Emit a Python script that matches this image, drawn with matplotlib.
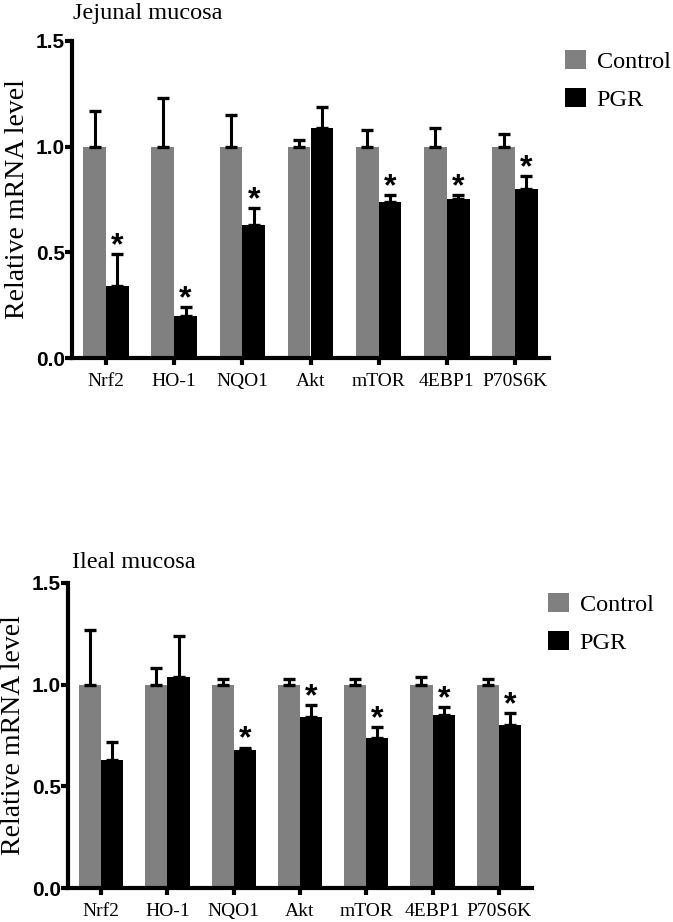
import matplotlib
matplotlib.use("Agg")
import matplotlib.pyplot as plt
import numpy as np
from matplotlib.patches import Patch

genes = ["Nrf2", "HO-1", "NQO1", "Akt", "mTOR", "4EBP1", "P70S6K"]
series_names = ["Control", "PGR"]

jej_control = [1.0, 1.0, 1.0, 1.0, 1.0, 1.0, 1.0]
jej_control_err = [0.17, 0.23, 0.15, 0.03, 0.08, 0.09, 0.06]
jej_pgr = [0.34, 0.20, 0.63, 1.09, 0.74, 0.75, 0.80]
jej_pgr_err = [0.15, 0.04, 0.08, 0.10, 0.03, 0.02, 0.06]
jej_sig = [True, True, True, False, True, True, True]

ile_control = [1.0, 1.0, 1.0, 1.0, 1.0, 1.0, 1.0]
ile_control_err = [0.27, 0.08, 0.03, 0.03, 0.03, 0.04, 0.03]
ile_pgr = [0.63, 1.04, 0.68, 0.84, 0.74, 0.85, 0.80]
ile_pgr_err = [0.09, 0.20, 0.01, 0.06, 0.05, 0.04, 0.06]
ile_sig = [False, False, True, True, True, True, True]

titles = ["Jejunal mucosa", "Ileal mucosa"]
yticks = [0.0, 0.5, 1.0, 1.5]

GRAY = "#808080"
BLACK = "#000000"
SERIF = ["Liberation Serif", "DejaVu Serif"]
SANS = ["Liberation Sans", "DejaVu Sans"]

W, H = 673, 922
fig = plt.figure(figsize=(W / 100, H / 100), dpi=100)


def px_axes(left, right, top, bottom):
    return fig.add_axes([left / W, 1 - bottom / H, (right - left) / W, (bottom - top) / H])


def draw_panel(ax, ctrl, ctrl_err, pgr, pgr_err, sig, title, legend_xy, title_xy):
    x = np.arange(len(genes))
    bw = 0.335
    ax.bar(x - bw / 2, ctrl, bw, color=GRAY, zorder=2)
    ax.bar(x + bw / 2, pgr, bw, color=BLACK, zorder=2)
    ax.errorbar(x - bw / 2, ctrl, yerr=[np.zeros(len(ctrl)), ctrl_err], fmt="none",
                ecolor=BLACK, elinewidth=2.2, capsize=4.2, capthick=2.4, zorder=3)
    ax.errorbar(x + bw / 2, pgr, yerr=[np.zeros(len(pgr)), pgr_err], fmt="none",
                ecolor=BLACK, elinewidth=2.2, capsize=4.2, capthick=2.4, zorder=3)
    for i, s in enumerate(sig):
        if s:
            ax.annotate("*", (x[i] + bw / 2, pgr[i] + pgr_err[i]), xytext=(0, -5),
                        textcoords="offset points", ha="center", va="bottom",
                        fontsize=23, fontweight="bold", family=SANS, zorder=4)
    ax.set_xlim(-0.5, len(genes) - 0.5)
    ax.set_ylim(0, 1.5)
    ax.set_yticks(yticks)
    ax.set_yticklabels([f"{t:.1f}" for t in yticks], fontsize=15, fontweight="bold", family=SANS)
    ax.set_xticks(x)
    ax.set_xticklabels(genes, fontsize=14, family=SERIF)
    for sp in ["top", "right"]:
        ax.spines[sp].set_visible(False)
    for sp in ["left", "bottom"]:
        ax.spines[sp].set_linewidth(3.0)
    ax.tick_params(axis="both", width=3.0, length=5, color=BLACK)
    ax.tick_params(axis="y", pad=0)
    ax.tick_params(axis="x", pad=6)
    ax.set_ylabel("Relative mRNA level", fontsize=20, family=SERIF, labelpad=4)
    fig.text(title_xy[0] / W, 1 - title_xy[1] / H, title, fontsize=17.5, family=SERIF,
             ha="left", va="center")
    handles = [Patch(facecolor=GRAY, edgecolor="none"), Patch(facecolor=BLACK, edgecolor="none")]
    fig.legend(handles, series_names, loc="upper left",
               bbox_to_anchor=(legend_xy[0] / W, 1 - legend_xy[1] / H),
               frameon=False, prop={"family": SERIF, "size": 17.5},
               handlelength=0.85, handleheight=0.85, handletextpad=0.45,
               labelspacing=0.6, borderpad=0, borderaxespad=0)


ax1 = px_axes(72, 549, 41, 358)
draw_panel(ax1, jej_control, jej_control_err, jej_pgr, jej_pgr_err, jej_sig,
           titles[0], (565, 50), (73, 14))

ax2 = px_axes(68, 532, 583, 888)
draw_panel(ax2, ile_control, ile_control_err, ile_pgr, ile_pgr_err, ile_sig,
           titles[1], (548, 593), (72, 562))

fig.savefig("out.png", dpi=100)
